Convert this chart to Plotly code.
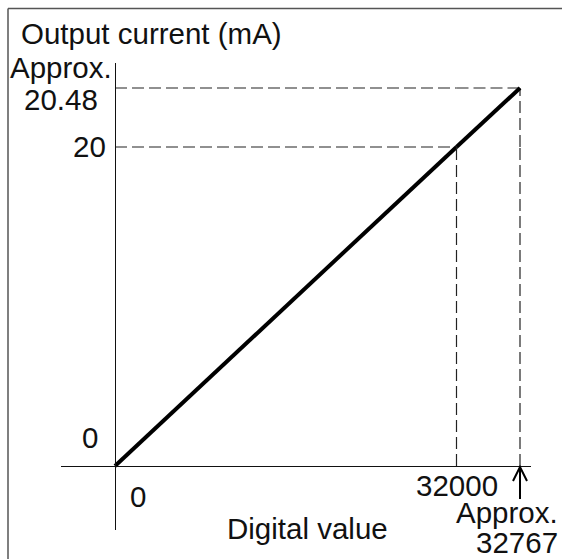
import plotly.graph_objects as go

# Characteristic of the analog output: digital value -> output current
digital_value = [0, 32000, 32767]
output_current = [0, 20, 20.48]

x_tick_text = ["0", "32000"]
x_end_text = ["Approx.", "32767"]
y_tick_text = ["0", "20"]
y_end_text = ["Approx.", "20.48"]

x_title = "Digital value"
y_title = "Output current (mA)"

# ---- page geometry (pixels) -------------------------------------------------
W, H = 562, 559
ORIGIN_X, ORIGIN_Y = 115, 466          # where 0 / 0 sits
X_BREAK, X_END = 456.5, 520            # pixel of 32000 and of 32767
Y_BREAK, Y_END = 147, 88               # pixel of 20 and of 20.48
X_LINE = (61, 531)                     # horizontal axis line extent
Y_LINE = (530, 63)                     # vertical axis line extent
OVER = 8                               # overlap of the two axis pieces

FONT = "Liberation Sans, Arial, Helvetica, sans-serif"
FS = 29.5
INK = "#111111"
DASH = dict(color="#222222", width=1.2, dash="12px,5px")


def px_x(p):
    return p / W


def px_y(p):
    return 1 - p / H


# Broken scales: the low piece runs 0..32000 (0..20), the high piece
# 32000..32767 (20..20.48), each on its own linear axis.
x0, xb, xe = digital_value
y0, yb, ye = output_current

sx1 = (X_BREAK - ORIGIN_X) / (xb - x0)
sx2 = (X_END - X_BREAK) / (xe - xb)
sy1 = (ORIGIN_Y - Y_BREAK) / (yb - y0)
sy2 = (Y_BREAK - Y_END) / (ye - yb)

axis_common = dict(showgrid=False, zeroline=False, showticklabels=False,
                   ticks="", showline=True, linecolor=INK, linewidth=1,
                   fixedrange=True)

layout_axes = dict(
    xaxis=dict(axis_common, anchor="free", position=px_y(ORIGIN_Y),
               domain=[px_x(X_LINE[0]), px_x(X_BREAK + OVER)],
               range=[x0 - (ORIGIN_X - X_LINE[0]) / sx1, xb + OVER / sx1]),
    xaxis2=dict(axis_common, anchor="free", position=px_y(ORIGIN_Y),
                domain=[px_x(X_BREAK - OVER), px_x(X_LINE[1])],
                range=[xb - OVER / sx2, xe + (X_LINE[1] - X_END) / sx2]),
    yaxis=dict(axis_common, anchor="free", position=px_x(ORIGIN_X),
               domain=[px_y(Y_LINE[0]), px_y(Y_BREAK - OVER)],
               range=[y0 - (Y_LINE[0] - ORIGIN_Y) / sy1, yb + OVER / sy1]),
    yaxis2=dict(axis_common, anchor="free", position=px_x(ORIGIN_X),
                domain=[px_y(Y_BREAK + OVER), px_y(Y_LINE[1])],
                range=[yb - OVER / sy2, ye + (Y_END - Y_LINE[1]) / sy2]),
)

fig = go.Figure()


def seg(xs, ys, xa, ya, line):
    fig.add_trace(go.Scatter(x=xs, y=ys, xaxis=xa, yaxis=ya, mode="lines",
                             line=line, hoverinfo="skip", showlegend=False))


# dashed guides
seg([x0, xb], [yb, yb], "x", "y", DASH)
seg([xb, xb], [y0, yb], "x2", "y", DASH)
seg([x0, xb], [ye, ye], "x", "y2", DASH)
seg([xb, xe], [ye, ye], "x2", "y2", DASH)
seg([xe, xe], [y0, yb], "x2", "y", DASH)
seg([xe, xe], [yb, ye], "x2", "y2", DASH)

# characteristic line
LINE = dict(color="#000000", width=4)
seg(digital_value[:2], output_current[:2], "x", "y", LINE)
seg(digital_value[1:], output_current[1:], "x2", "y2", LINE)

txt = dict(showarrow=False, font=dict(family=FONT, size=FS, color=INK))

annotations = [
    # axis titles
    dict(txt, text=y_title, xref="paper", yref="paper",
         x=px_x(19), y=px_y(34), xanchor="left", yanchor="middle"),
    dict(txt, text=x_title, xref="paper", yref="paper",
         x=px_x(307), y=px_y(528), xanchor="center", yanchor="middle"),
    # vertical axis labels
    dict(txt, text=y_tick_text[0], xref="x", yref="y", x=x0, y=y0,
         xanchor="right", yanchor="middle", xshift=-15, yshift=29),
    dict(txt, text=y_tick_text[1], xref="x", yref="y", x=x0, y=yb,
         xanchor="right", yanchor="middle", xshift=-7),
    dict(txt, text=y_end_text[0], xref="x", yref="y2", x=x0, y=ye,
         xanchor="center", yanchor="middle", xshift=-54, yshift=20),
    dict(txt, text=y_end_text[1], xref="x", yref="y2", x=x0, y=ye,
         xanchor="center", yanchor="middle", xshift=-54, yshift=-12),
    # horizontal axis labels
    dict(txt, text=x_tick_text[0], xref="x", yref="y", x=x0, y=y0,
         xanchor="left", yanchor="middle", xshift=13, yshift=-30),
    dict(txt, text=x_tick_text[1], xref="x2", yref="y", x=xb, y=y0,
         xanchor="center", yanchor="middle", yshift=-19),
    dict(txt, text=x_end_text[0], xref="x2", yref="y", x=xe, y=y0,
         xanchor="right", yanchor="middle", xshift=40, yshift=-46),
    dict(txt, text=x_end_text[1], xref="x2", yref="y", x=xe, y=y0,
         xanchor="right", yanchor="middle", xshift=40, yshift=-76),
]

# frame (top and left edges)
frame = dict(type="line", xref="paper", yref="paper",
             line=dict(color="#555555", width=1.5))
shapes = [
    dict(frame, x0=px_x(8), x1=1, y0=px_y(8.5), y1=px_y(8.5)),
    dict(frame, x0=px_x(8), x1=px_x(8), y0=px_y(8.5), y1=0),
    # open arrow pointing up at the full-scale value on the axis
    dict(type="path", xref="x2", yref="y", xsizemode="pixel",
         ysizemode="pixel", xanchor=xe, yanchor=y0,
         path="M0,-1 L0,-33 M-7,-15 L0,-1 L7,-15",
         line=dict(color="#000000", width=2)),
]

fig.update_layout(
    width=W, height=H,
    margin=dict(l=0, r=0, t=0, b=0),
    paper_bgcolor="white", plot_bgcolor="rgba(0,0,0,0)",
    showlegend=False,
    annotations=annotations, shapes=shapes,
    **layout_axes,
)

fig.write_html("out.html", config={"displayModeBar": False})
